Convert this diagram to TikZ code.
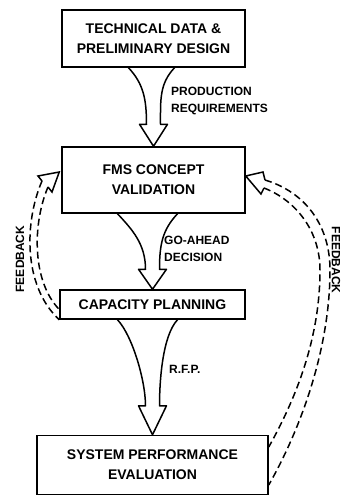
\documentclass[tikz,border=0pt]{standalone}
\usepackage{fontspec}
\setmainfont{Liberation Sans}
\usetikzlibrary{calc}

\tikzset{
  stage/.style={draw, line width=1.5pt, inner sep=0pt, align=center,
    font=\fontsize{14}{20}\selectfont\bfseries},
  flowline/.style={line width=1.5pt, line join=round},
  fbline/.style={line width=1.5pt, dash pattern=on 7pt off 4pt},
  fbhead/.style={line width=1.5pt, line join=miter},
  tag/.style={inner sep=0pt, align=left, font=\fontsize{12}{17}\selectfont\bfseries}
}

% hollow curved arrow: from node, to node, left/right top offset, head length
\newcommand{\fatarrow}[5]{%
  \draw[flowline] ($(#1.south)+(#3,0)$) .. controls +(15,16) and +(0,-25) .. ($(#2.north)+(-7,-#5)$)
    -- ($(#2.north)+(-14,-#5)$) -- (#2.north) -- ($(#2.north)+(14,-#5)$) -- ($(#2.north)+(7,-#5)$)
    .. controls +(0,-25) and +(-15,16) .. ($(#1.south)+(#4,0)$);}

\begin{document}
\begin{tikzpicture}[x=1pt, y=-1pt]
  \useasboundingbox (0,0) rectangle (347,496);

  \node[stage, minimum width=183pt, minimum height=57pt] (tech) at (153.5,38.5)
    {TECHNICAL DATA \&\\PRELIMINARY DESIGN};
  \node[stage, minimum width=183pt, minimum height=66pt] (fms) at (153.5,180)
    {FMS CONCEPT\\VALIDATION};
  \node[stage, minimum width=185pt, minimum height=29pt] (cap) at (152.5,304.5)
    {CAPACITY PLANNING};
  \node[stage, minimum width=231pt, minimum height=59pt] (sys) at (152.5,465)
    {SYSTEM PERFORMANCE\\EVALUATION};

  \fatarrow{tech}{fms}{-25}{21}{22}
  \fatarrow{fms}{cap}{-36}{24}{20}
  \fatarrow{cap}{sys}{-35}{25}{29}

  \node[tag, anchor=west] (prodreq) at (171,101) {PRODUCTION\\REQUIREMENTS};
  \node[tag, anchor=west] (goahead) at (164,249) {GO-AHEAD\\DECISION};
  \node[tag, anchor=west] (rfp) at (169,369) {R.F.P.};

  % feedback, left side
  \coordinate (lftip) at ($(fms.west)+(-2,-8)$);
  \draw[fbline] (42,181) .. controls (25,220) and (22,285) .. (cap.south west);
  \draw[fbline] (48,187) .. controls (33,222) and (31,280) .. ($(cap.west)+(0,5)$);
  \draw[fbhead] (42,181) -- (38,176) -- (lftip) -- (52,192) -- (48,187);
  \node[tag, rotate=90] (fbleft) at (20,259) {FEEDBACK};

  % feedback, right side
  \coordinate (rftip) at ($(fms.east)+(0,-4)$);
  \draw[fbline] (265,180) .. controls (305,192) and (330,225) .. (330,270)
    .. controls (330,350) and (300,430) .. ($(sys.east)+(0,20)$);
  \draw[fbline] (264,188) .. controls (295,200) and (320,230) .. (320,270)
    .. controls (320,340) and (295,400) .. ($(sys.east)+(0,-18)$);
  \draw[fbhead] (265,180) -- (263,172) -- (rftip) -- (261,194) -- (264,188);
  \node[tag, rotate=-90] (fbright) at (336,260) {FEEDBACK};
\end{tikzpicture}
\end{document}
